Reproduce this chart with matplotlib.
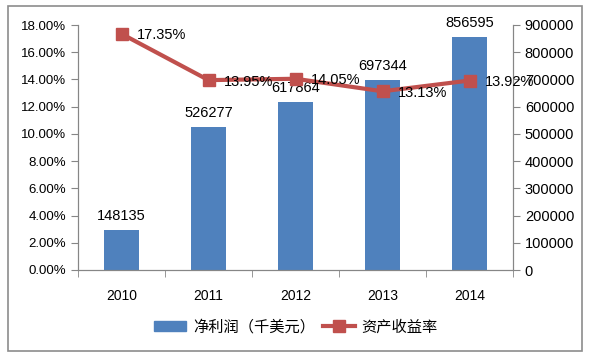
import matplotlib.pyplot as plt
import numpy as np
from matplotlib.patches import Rectangle
from matplotlib.lines import Line2D

plt.rcParams['font.family'] = ['Liberation Sans', 'Noto Sans CJK SC', 'DejaVu Sans']

years = ['2010', '2011', '2012', '2013', '2014']
net_profit = [148135, 526277, 617864, 697344, 856595]
roa = [17.35, 13.95, 14.05, 13.13, 13.92]

bar_color = '#4F81BD'
line_color = '#C0504D'
axis_color = '#868686'

fig = plt.figure(figsize=(5.89, 3.60), dpi=100)
fig.patches.append(Rectangle((8 / 589, 9 / 360), 574 / 589, 345 / 360,
                             transform=fig.transFigure, fill=False,
                             edgecolor='#8c8c8c', linewidth=1.2))

ax = fig.add_axes([78 / 589, 0.25, (513 - 78) / 589, 245 / 360])
ax2 = ax.twinx()
ax.set_zorder(ax2.get_zorder() + 1)
ax.patch.set_visible(False)

x = np.arange(len(years))

# bars on the right axis
bars = ax2.bar(x, net_profit, width=0.4, color=bar_color, zorder=2)
for xi, v in zip(x, net_profit):
    ax2.annotate(str(v), (xi, v), xytext=(0, 5), textcoords='offset points',
                 ha='center', va='bottom', fontsize=10.5)
ax2.set_ylim(0, 900000)
ax2.set_yticks(np.arange(0, 900001, 100000))
ax2.set_yticklabels([str(v) for v in range(0, 900001, 100000)])

# line on the left axis
ax.plot(x, roa, color=line_color, linewidth=3, marker='s', markersize=9, zorder=3)
for xi, v in zip(x, roa):
    ax.annotate(f'{v:.2f}%', (xi, v), xytext=(11, -1), textcoords='offset points',
                ha='left', va='center', fontsize=10.5)
ax.set_ylim(0, 18)
ax.set_yticks(np.arange(0, 18.1, 2))
ax.set_yticklabels([f'{v:.2f}%' for v in np.arange(0, 18.1, 2)])

ax.set_xlim(-0.5, len(years) - 0.5)
ax.set_xticks(x)
ax.set_xticklabels(years)
ax.set_xticks(np.arange(-0.5, len(years)), minor=True)
ax.tick_params(axis='x', which='major', length=0, pad=14, labelsize=10)
ax.tick_params(axis='x', which='minor', length=5, color=axis_color, direction='out')

for a in (ax, ax2):
    a.spines['top'].set_visible(False)
    for side in ('left', 'right', 'bottom'):
        a.spines[side].set_color(axis_color)
ax.tick_params(axis='y', length=5, color=axis_color, labelsize=9.5)
ax2.tick_params(axis='y', length=5, color=axis_color, labelsize=10.5)

handles = [Rectangle((0, 0), 1, 1, color=bar_color),
           Line2D([0], [0], color=line_color, linewidth=3, marker='s', markersize=9)]
fig.legend(handles, ['净利润（千美元）', '资产收益率'], loc='center',
           bbox_to_anchor=(296 / 589, 1 - 327 / 360), ncol=2, frameon=False,
           handlelength=2.1, handleheight=0.6, columnspacing=0.5,
           handletextpad=0.45, prop={'family': ['Noto Sans CJK SC', 'DejaVu Sans'], 'size': 11})

fig.savefig('out.png', dpi=100)
